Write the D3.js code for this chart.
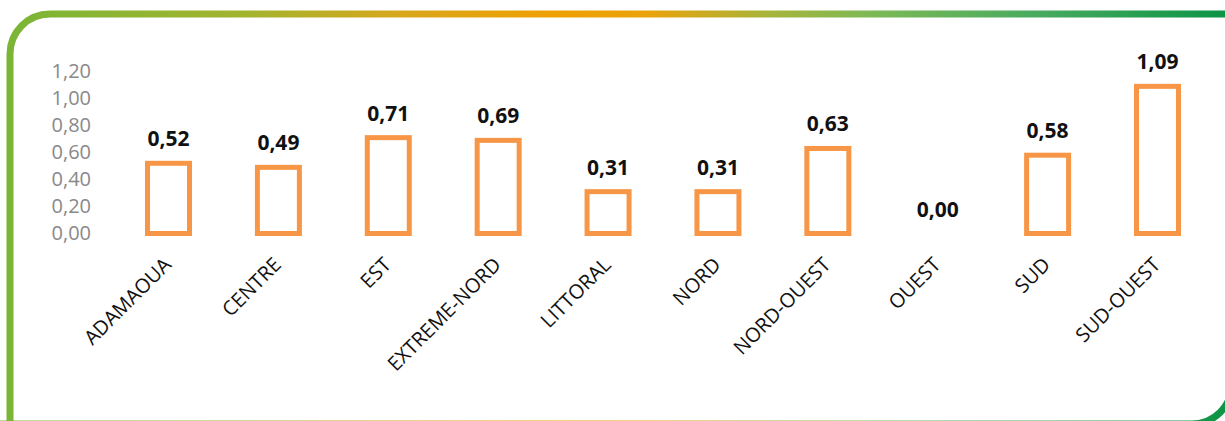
<!DOCTYPE html>
<html>
<head>
<meta charset="utf-8">
<script src="https://cdn.jsdelivr.net/npm/d3@7"></script>
<style>
  html, body { margin: 0; padding: 0; background: #fff; }
  svg { display: block; font-family: "Open Sans", sans-serif; }
</style>
</head>
<body>
<div id="image"></div>
<script>
// données
var regions = ["ADAMAOUA", "CENTRE", "EST", "EXTREME-NORD", "LITTORAL", "NORD", "NORD-OUEST", "OUEST", "SUD", "SUD-OUEST"];
var valeurs = [0.52, 0.49, 0.71, 0.69, 0.31, 0.31, 0.63, 0.00, 0.58, 1.09];
var yTicks = [0, 0.2, 0.4, 0.6, 0.8, 1.0, 1.2];

var width = 1225, height = 421;
var barWidth = 42;
var orange = "#f79646";

// format à la française : virgule décimale
var fmt = function(v) { return d3.format(".2f")(v).replace(".", ","); };

var svg = d3.select("#image").append("svg")
    .attr("width", width)
    .attr("height", height);

// dégradé du cadre (vert -> orange -> vert)
var defs = svg.append("defs");
var grad = defs.append("linearGradient")
    .attr("id", "cadre")
    .attr("gradientUnits", "userSpaceOnUse")
    .attr("x1", 0).attr("y1", 0)
    .attr("x2", width).attr("y2", 0);
[[0, "#79b536"], [0.2, "#a3b42e"], [0.33, "#d9a71c"], [0.45, "#efa002"], [0.53, "#e9a30c"],
 [0.63, "#a6b53c"], [0.71, "#7db955"], [0.85, "#47aa5f"], [1, "#0d9446"]].forEach(function(s) {
    grad.append("stop").attr("offset", s[0]).attr("stop-color", s[1]);
});

// cadre arrondi en haut à gauche et en bas à droite
var L = 10, T = 14, R = 1232, B = 424, r = 40;
var p = d3.path();
p.moveTo(L, B + 10);
p.lineTo(L, T + r);
p.arcTo(L, T, L + r, T, r);
p.lineTo(R + 10, T);
p.moveTo(R, T);
p.lineTo(R, B - r);
p.arcTo(R, B, R - r, B, r);
p.lineTo(L - 10, B);
svg.append("path")
    .attr("d", p.toString())
    .attr("fill", "none")
    .attr("stroke", "url(#cadre)")
    .attr("stroke-width", 7);

// échelles
var x = d3.scalePoint().domain(regions).range([168.5, 1157.5]);
var y = d3.scaleLinear().domain([0, 1.2]).range([233.5, 71.5]);

// axe des ordonnées (sans trait)
var axeY = svg.append("g")
    .attr("transform", "translate(91,0)")
    .call(d3.axisLeft(y).tickValues(yTicks).tickSize(0).tickPadding(0).tickFormat(fmt));
axeY.select(".domain").remove();
axeY.selectAll("text")
    .attr("fill", "#898989")
    .style("font-family", "'Open Sans', sans-serif")
    .style("font-size", "20px");

var data = regions.map(function(d, i) { return {region: d, valeur: valeurs[i]}; });

// barres creuses (la valeur nulle n'est pas dessinée)
svg.selectAll("rect.barre")
    .data(data.filter(function(d) { return d.valeur > 0; }))
    .enter().append("rect")
    .attr("class", "barre")
    .attr("x", function(d) { return x(d.region) - barWidth / 2; })
    .attr("y", function(d) { return y(d.valeur); })
    .attr("width", barWidth)
    .attr("height", function(d) { return y(0) - y(d.valeur); })
    .attr("fill", "#fff")
    .attr("stroke", orange)
    .attr("stroke-width", 5);

// étiquettes de valeurs
svg.selectAll("text.valeur")
    .data(data)
    .enter().append("text")
    .attr("class", "valeur")
    .attr("x", function(d) { return x(d.region); })
    .attr("y", function(d) { return y(d.valeur) - 17; })
    .attr("text-anchor", "middle")
    .style("font-size", "21px")
    .style("font-weight", "bold")
    .attr("fill", "#111")
    .text(function(d) { return fmt(d.valeur); });

// noms des régions inclinés
svg.selectAll("text.region")
    .data(regions)
    .enter().append("text")
    .attr("class", "region")
    .attr("transform", function(d) { return "translate(" + (x(d) + 4) + ",266) rotate(-45)"; })
    .attr("text-anchor", "end")
    .style("font-size", "20px")
    .attr("fill", "#111")
    .text(function(d) { return d; });
</script>
</body>
</html>
